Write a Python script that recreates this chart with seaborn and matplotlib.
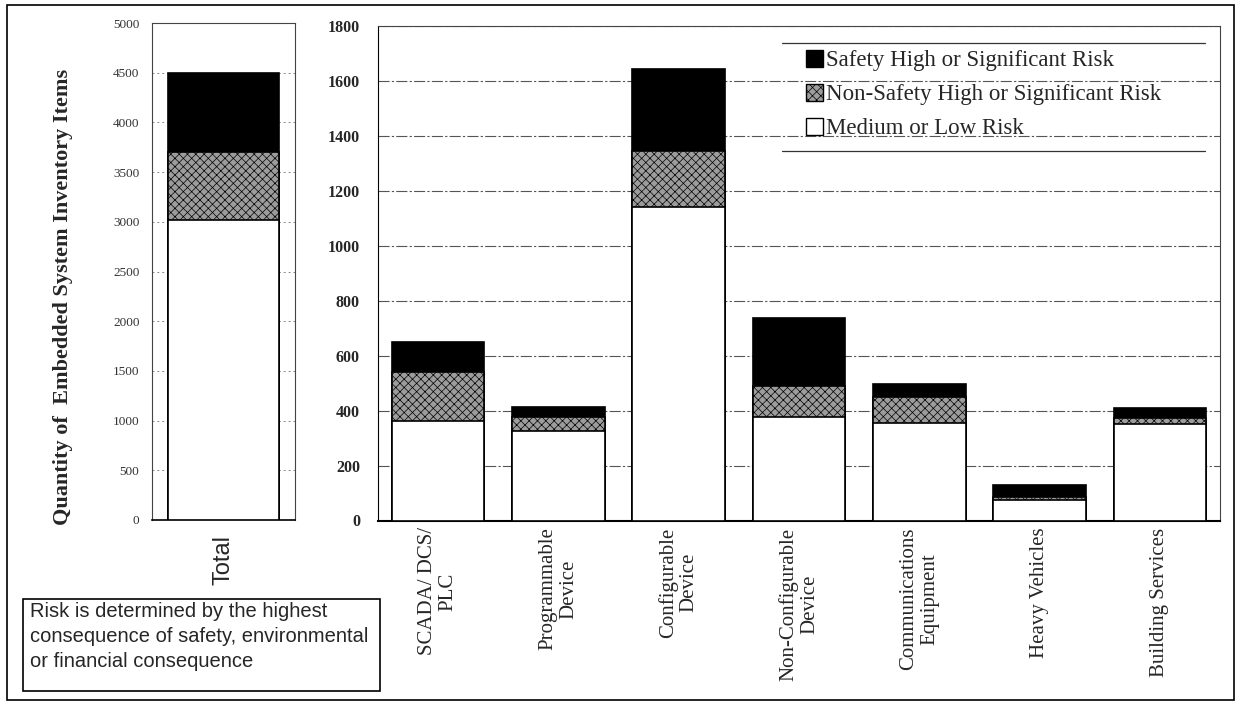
import numpy as np
import pandas as pd
import seaborn as sns
import matplotlib
matplotlib.use('Agg')
import matplotlib.pyplot as plt
from matplotlib.patches import Patch, Rectangle
from matplotlib.lines import Line2D

# values
categories = ['SCADA/ DCS/\nPLC', 'Programmable\nDevice', 'Configurable\nDevice',
              'Non-Configurable\nDevice', 'Communications\nEquipment',
              'Heavy Vehicles', 'Building Services']
medium_low = [362, 326, 1140, 378, 356, 75, 351]
non_safety = [179, 51, 206, 113, 92, 9, 21]
safety = [109, 36, 296, 245, 49, 45, 36]

total_cat = ['Total']
total_medium = [3020]
total_non_safety = [685]
total_safety = [795]

legend_labels = ['Safety High or Significant Risk',
                 'Non-Safety High or Significant Risk',
                 'Medium or Low Risk']
note = ('Risk is determined by the highest\n'
        'consequence of safety, environmental\n'
        'or financial consequence')

sns.set_style('white')
plt.rcParams['font.family'] = ['Liberation Serif', 'DejaVu Serif']
plt.rcParams['hatch.linewidth'] = 0.5

GREY = '#9c9c9c'
HATCH = 'xxxx'

fig = plt.figure(figsize=(12.36, 7.03), dpi=100)
W, H = 1236, 703


def px_axes(x0, y0, x1, y1):
    return fig.add_axes([x0 / W, 1 - y1 / H, (x1 - x0) / W, (y1 - y0) / H])


def stacked(ax, cats, med, ns, sf):
    df = pd.DataFrame({'cat': cats, 'med': med,
                       'mid': np.add(med, ns),
                       'top': np.add(np.add(med, ns), sf)})
    kw = dict(data=df, x='cat', order=cats, width=0.77, errorbar=None,
              saturation=1, edgecolor='black', linewidth=1.2, ax=ax, zorder=3)
    sns.barplot(y='top', color='black', **kw)
    sns.barplot(y='mid', color=GREY, hatch=HATCH, **kw)
    sns.barplot(y='med', color='white', **kw)
    ax.set_xlabel('')
    ax.set_ylabel('')


# left panel: total
axl = px_axes(152, 23, 295, 520)
stacked(axl, total_cat, total_medium, total_non_safety, total_safety)
axl.set_ylim(0, 5000)
axl.set_xlim(-0.5, 0.5)
axl.set_yticks(np.arange(0, 5001, 500))
axl.yaxis.grid(True, color='#888888', linestyle=(0, (2, 3)), linewidth=0.7)
axl.set_axisbelow(True)
axl.tick_params(axis='y', direction='out', length=3, width=0.8, labelsize=9.5,
                labelcolor='#333333', pad=6)
axl.tick_params(axis='x', length=0, pad=11)
axl.set_xticks([0])
axl.set_xticklabels(total_cat, rotation=90, family='Liberation Sans',
                    fontsize=17, va='top', ha='center')
for s in axl.spines.values():
    s.set_color('#444444')
    s.set_linewidth(0.8)
axl.spines['bottom'].set_linewidth(1.2)
axl.spines['bottom'].set_color('black')

# right panel: categories
axr = px_axes(378, 26, 1220, 520.5)
stacked(axr, categories, medium_low, non_safety, safety)
axr.set_ylim(0, 1800)
axr.set_xlim(-0.5, len(categories) - 0.5)
axr.set_yticks(np.arange(0, 1801, 200))
axr.yaxis.grid(True, color='#555555', linestyle=(0, (10, 2, 2, 2)), linewidth=0.8)
axr.set_axisbelow(True)
axr.tick_params(axis='y', direction='out', length=3, width=0.8, labelsize=11.5,
                pad=10)
for lab in axr.get_yticklabels():
    lab.set_fontweight('bold')
axr.tick_params(axis='x', length=0, pad=5)
axr.set_xticks(range(len(categories)))
axr.set_xticklabels(categories, rotation=90, fontsize=15, va='top',
                    ha='center', multialignment='center', linespacing=1.1)
for s in axr.spines.values():
    s.set_color('#444444')
    s.set_linewidth(0.8)
axr.spines['left'].set_color('black')
axr.spines['bottom'].set_color('black')
axr.spines['bottom'].set_linewidth(1.5)

# legend with only top and bottom rules
handles = [Patch(facecolor='black', edgecolor='black', linewidth=1),
           Patch(facecolor=GREY, edgecolor='black', hatch=HATCH, linewidth=1),
           Patch(facecolor='white', edgecolor='black', linewidth=1)]
leg = axr.legend(handles, legend_labels, loc='upper left',
                 bbox_to_anchor=(0.497, 0.97), frameon=False, fontsize=16.5,
                 handlelength=0.75, handleheight=0.75, handletextpad=0.15,
                 labelspacing=0.55, borderaxespad=0)
leg.set_zorder(5)
for yy in (0.9656, 0.747):
    axr.add_line(Line2D([0.48, 0.982], [yy, yy], transform=axr.transAxes,
                        color='#333333', linewidth=0.9, zorder=5))

# y label
fig.text(63 / W, 1 - 297 / H, 'Quantity of  Embedded System Inventory Items',
         rotation=90, ha='center', va='center', fontsize=16,
         fontweight='bold')

# note box
fig.add_artist(Rectangle((23 / W, 1 - 691 / H), (380 - 23) / W, (691 - 599) / H,
                         transform=fig.transFigure, facecolor='white',
                         edgecolor='black', linewidth=1.2))
fig.text(30 / W, 1 - 602 / H, note, ha='left', va='top', fontsize=14.5,
         family='Liberation Sans', linespacing=1.4)

# outer frame
fig.add_artist(Rectangle((7 / W, 1 - 700 / H), (1234 - 7) / W, (700 - 5) / H,
                         transform=fig.transFigure, facecolor='none',
                         edgecolor='black', linewidth=1.2))

fig.savefig('out.png', dpi=100)
